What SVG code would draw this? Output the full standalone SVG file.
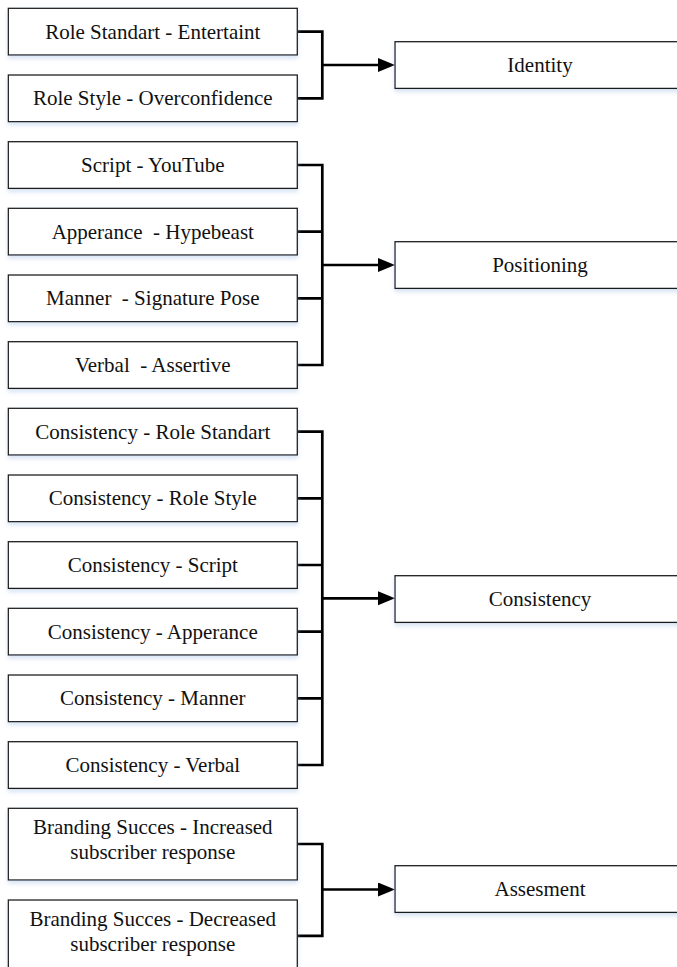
<svg xmlns="http://www.w3.org/2000/svg" width="677" height="967" viewBox="0 0 677 967">
<style>
.box{fill:#fff;stroke:#1e1e1e;stroke-width:1.3;filter:url(#sh)}
.t{font-family:'Liberation Serif','Times New Roman',Times,'DejaVu Serif',serif;font-size:21px;fill:#111;text-anchor:middle;white-space:pre}
.c{fill:none;stroke:#000;stroke-width:2.7;stroke-linejoin:miter}
.a{fill:none;stroke:#000;stroke-width:2.7;marker-end:url(#arr)}
</style>
<defs>
<filter id="sh" x="-10%" y="-20%" width="120%" height="150%">
<feDropShadow dx="0" dy="3" stdDeviation="2" flood-color="#a9c3e6" flood-opacity="0.45"/>
</filter>
<marker id="arr" markerUnits="userSpaceOnUse" markerWidth="18" markerHeight="15" refX="1" refY="7" orient="auto">
<path d="M0,0 L17,7 L0,14 z" fill="#000"/>
</marker>
</defs>
<rect width="677" height="967" fill="#fff"/>
<g id="connectors">
<path class="c" d="M297.3,31.7 H322.3 V98.3 H297.3"/>
<path class="a" d="M322.3,65 H379"/>
<path class="c" d="M297.3,165 H322.3 V365 H297.3 M297.3,231.7 H322.3 M297.3,298.3 H322.3"/>
<path class="a" d="M322.3,265 H379"/>
<path class="c" d="M297.3,431.7 H322.3 V765 H297.3 M297.3,498.3 H322.3 M297.3,565 H322.3 M297.3,631.7 H322.3 M297.3,698.3 H322.3"/>
<path class="a" d="M322.3,598.3 H379"/>
<path class="c" d="M297.3,844 H322.3 V935.8 H297.3"/>
<path class="a" d="M322.3,889.5 H379"/>
</g>
<g id="n1"><rect class="box" x="8.3" y="8.3" width="289" height="46.7"/><text class="t" x="152.8" y="38.7">Role Standart - Entertaint</text></g>
<g id="n2"><rect class="box" x="8.3" y="75" width="289" height="46.7"/><text class="t" x="152.8" y="105.3">Role Style - Overconfidence</text></g>
<g id="n3"><rect class="box" x="8.3" y="141.7" width="289" height="46.7"/><text class="t" x="152.8" y="172">Script - YouTube</text></g>
<g id="n4"><rect class="box" x="8.3" y="208.3" width="289" height="46.7"/><text class="t" x="152.8" y="238.7">Apperance  - Hypebeast</text></g>
<g id="n5"><rect class="box" x="8.3" y="275" width="289" height="46.7"/><text class="t" x="152.8" y="305.3">Manner  - Signature Pose</text></g>
<g id="n6"><rect class="box" x="8.3" y="341.7" width="289" height="46.7"/><text class="t" x="152.8" y="372">Verbal  - Assertive</text></g>
<g id="n7"><rect class="box" x="8.3" y="408.3" width="289" height="46.7"/><text class="t" x="152.8" y="438.7">Consistency - Role Standart</text></g>
<g id="n8"><rect class="box" x="8.3" y="475" width="289" height="46.7"/><text class="t" x="152.8" y="505.3">Consistency - Role Style</text></g>
<g id="n9"><rect class="box" x="8.3" y="541.7" width="289" height="46.7"/><text class="t" x="152.8" y="572">Consistency - Script</text></g>
<g id="n10"><rect class="box" x="8.3" y="608.3" width="289" height="46.7"/><text class="t" x="152.8" y="638.7">Consistency - Apperance</text></g>
<g id="n11"><rect class="box" x="8.3" y="675" width="289" height="46.7"/><text class="t" x="152.8" y="705.3">Consistency - Manner</text></g>
<g id="n12"><rect class="box" x="8.3" y="741.7" width="289" height="46.7"/><text class="t" x="152.8" y="772">Consistency - Verbal</text></g>
<g id="n13"><rect class="box" x="8.3" y="808.3" width="289" height="71.7"/><text class="t" x="152.8" y="834">Branding Succes - Increased</text><text class="t" x="152.8" y="859">subscriber response</text></g>
<g id="n14"><rect class="box" x="8.3" y="900" width="289" height="71.7"/><text class="t" x="152.8" y="925.7">Branding Succes - Decreased</text><text class="t" x="152.8" y="950.7">subscriber response</text></g>
<g id="identity"><rect class="box" x="395" y="41.7" width="290" height="46.7"/><text class="t" x="540" y="72">Identity</text></g>
<g id="positioning"><rect class="box" x="395" y="241.7" width="290" height="46.7"/><text class="t" x="540" y="272">Positioning</text></g>
<g id="consistency"><rect class="box" x="395" y="575.7" width="290" height="46.7"/><text class="t" x="540" y="606">Consistency</text></g>
<g id="assesment"><rect class="box" x="395" y="865.7" width="290" height="46.7"/><text class="t" x="540" y="896">Assesment</text></g>
</svg>
